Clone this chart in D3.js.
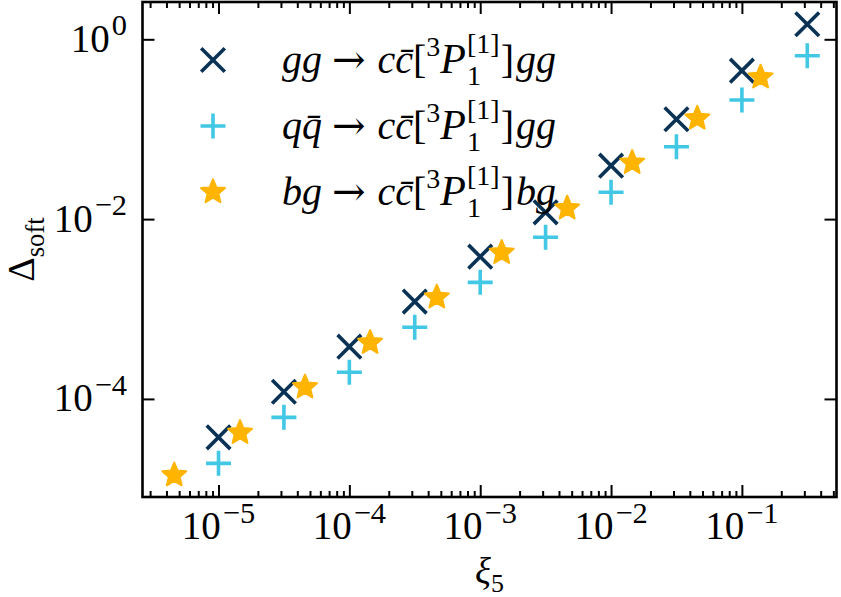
<!DOCTYPE html>
<html><head><meta charset="utf-8">
<script src="https://cdn.jsdelivr.net/npm/d3@7"></script>
<style>html,body{margin:0;padding:0;background:#fff}svg{display:block}</style>
</head><body>
<svg id="chart" width="841" height="597"></svg>
<script>
// ---------------- data ----------------
const xiGrid = [1e-5, 3.16e-5, 1e-4, 3.16e-4, 1e-3, 3.16e-3, 1e-2, 3.16e-2, 1e-1, 3.16e-1];
const ggVals = [3.74e-5, 1.20e-4, 3.81e-4, 1.21e-3, 3.82e-3, 1.19e-2, 3.93e-2, 0.129, 0.448, 1.47];
const qqVals = [1.92e-5, 6.24e-5, 1.98e-4, 6.26e-4, 1.98e-3, 6.28e-3, 1.99e-2, 6.39e-2, 0.211, 0.657];
const bgXi   = [4.59e-6, 1.46e-5, 4.58e-5, 1.44e-4, 4.66e-4, 1.46e-3, 4.62e-3, 1.45e-2, 4.56e-2, 0.139];
const bgVals = [1.42e-5, 4.21e-5, 1.35e-4, 4.22e-4, 1.35e-3, 4.23e-3, 1.32e-2, 4.24e-2, 0.132, 0.378];
const xMajorTicks = [1e-5, 1e-4, 1e-3, 1e-2, 1e-1];
const xTickExps = ["\u22125", "\u22124", "\u22123", "\u22122", "\u22121"];
const yMajorTicks = [1, 1e-2, 1e-4];
const yTickExps = ["0", "\u22122", "\u22124"];

// ---------------- layout ----------------
const L = 142.5, R = 836.5, T = 2, B = 497;
const FONT = "'Liberation Serif', 'DejaVu Serif', serif";
const TICKFS = 39, LABFS = 40;
const C_GG = "#0a3255", C_QQ = "#42c8e5", C_BG = "#ffb400";

const svg = d3.select("#chart");
const x = d3.scaleLog().domain([Math.pow(10, -5.581), Math.pow(10, -0.277)]).range([L, R]);
const y = d3.scaleLog().domain([Math.pow(10, -5.091), Math.pow(10, 0.415)]).range([B, T]);

// minor x ticks
const xMinor = [];
for (let e = -6; e <= 0; e++) for (let m = 2; m <= 9; m++) {
  const v = m * Math.pow(10, e);
  if (v > x.domain()[0] && v < x.domain()[1]) xMinor.push(v);
}

function styleAxis(g) {
  g.select(".domain").remove();
  g.selectAll("line").attr("stroke", "#000").attr("stroke-width", 2);
  g.selectAll("text").remove();
}
svg.append("g").attr("transform", `translate(0,${B})`).call(d3.axisBottom(x).tickValues(xMajorTicks).tickSize(-12).tickFormat("")).call(styleAxis);
svg.append("g").attr("transform", `translate(0,${B})`).call(d3.axisBottom(x).tickValues(xMinor).tickSize(-6).tickFormat("")).call(styleAxis);
svg.append("g").attr("transform", `translate(0,${T})`).call(d3.axisTop(x).tickValues(xMajorTicks).tickSize(-12).tickFormat("")).call(styleAxis);
svg.append("g").attr("transform", `translate(0,${T})`).call(d3.axisTop(x).tickValues(xMinor).tickSize(-6).tickFormat("")).call(styleAxis);
svg.append("g").attr("transform", `translate(${L},0)`).call(d3.axisLeft(y).tickValues(yMajorTicks).tickSize(-12).tickFormat("")).call(styleAxis);
svg.append("g").attr("transform", `translate(${R},0)`).call(d3.axisRight(y).tickValues(yMajorTicks).tickSize(-12).tickFormat("")).call(styleAxis);

// math text helper
function mathText(parent, px, py, pieces, base, anchor, rotate) {
  const g = parent.append("g");
  const inner = g.append("g");
  let cx = 0, prevStart = 0, prevEnd = 0;
  pieces.forEach(p => {
    const fs = base * (p.s || 1);
    const sx = (p.back ? prevStart : cx) + (p.dx || 0);
    const t = inner.append("text").attr("x", sx).attr("y", -(p.sh || 0) * base)
      .attr("font-family", p.ff || FONT).attr("font-size", fs)
      .attr("font-style", p.it ? "italic" : "normal").attr("fill", "#000").text(p.t);
    const w = t.node().getComputedTextLength();
    const end = sx + w + (p.dxa || 0);
    cx = p.back ? Math.max(prevEnd, end) : end;
    prevStart = sx; prevEnd = end;
  });
  const off = anchor === "middle" ? -cx / 2 : anchor === "end" ? -cx : 0;
  inner.attr("transform", `translate(${off},0)`);
  g.attr("transform", `translate(${px},${py})` + (rotate ? ` rotate(${rotate})` : ""));
  return g;
}

// tick labels
xMajorTicks.forEach((v, i) => {
  mathText(svg, x(v), 539, [{t: "10"}, {t: xTickExps[i], s: 0.78, sh: 0.42, dx: 2}], TICKFS, "middle");
});
yMajorTicks.forEach((v, i) => {
  mathText(svg, 127, y(v) + 12.5, [{t: "10"}, {t: yTickExps[i], s: 0.78, sh: 0.42, dx: 2}], TICKFS, "end");
});

// axis labels
mathText(svg, (L + R) / 2, 584, [{t: "\u03be", it: true}, {t: "5", s: 0.7, sh: -0.22}], 37, "middle");
mathText(svg, 34, (T + B) / 2, [{t: "\u0394"}, {t: "soft", s: 0.7, sh: -0.25}], 38, "middle", -90);

// markers
const plot = svg.append("g");
function drawX(g, cx, cy, col) {
  const h = 11.8;
  g.append("path").attr("d", `M${cx - h},${cy - h}L${cx + h},${cy + h}M${cx - h},${cy + h}L${cx + h},${cy - h}`)
    .attr("stroke", col).attr("stroke-width", 3.6).attr("fill", "none");
}
function drawPlus(g, cx, cy, col) {
  const h = 12.5;
  g.append("path").attr("d", `M${cx - h},${cy}L${cx + h},${cy}M${cx},${cy - h}L${cx},${cy + h}`)
    .attr("stroke", col).attr("stroke-width", 3.6).attr("fill", "none");
}
function drawStar(g, cx, cy, col) {
  const Ro = 12.6, Ri = Ro * 0.45;
  const pts = [];
  for (let k = 0; k < 10; k++) {
    const a = -Math.PI / 2 + k * Math.PI / 5;
    const r = k % 2 === 0 ? Ro : Ri;
    pts.push([cx + r * Math.cos(a), cy + r * Math.sin(a)]);
  }
  g.append("path").attr("d", "M" + pts.map(p => p.join(",")).join("L") + "Z")
    .attr("fill", col).attr("stroke", col).attr("stroke-width", 2).attr("stroke-linejoin", "round");
}
xiGrid.forEach((v, i) => drawX(plot, x(v), y(ggVals[i]), C_GG));
xiGrid.forEach((v, i) => drawPlus(plot, x(v), y(qqVals[i]), C_QQ));
bgXi.forEach((v, i) => drawStar(plot, x(v), y(bgVals[i]), C_BG));

// legend
const leg = svg.append("g");
const legY = [60, 126, 192];
drawX(leg, 213, legY[0], C_GG);
drawPlus(leg, 213, legY[1], C_QQ);
drawStar(leg, 213, legY[2], C_BG);
function legPieces(a, b) {
  return [
    {t: a, it: true}, {t: "\u2192", ff: "'DejaVu Serif', serif", s: 1.0, dx: 10, dxa: 12}, {t: "cc\u0304", it: true}, {t: "["},
    {t: "3", s: 0.7, sh: 0.42}, {t: "P", it: true, s: 1.05},
    {t: "[1]", s: 0.7, sh: 0.5, dx: 1}, {t: "1", s: 0.7, sh: -0.3, back: true},
    {t: "]", dx: 1}, {t: b, it: true, dx: 2}
  ];
}
mathText(leg, 282, legY[0] + 13, legPieces("gg", "gg"), LABFS, "start");
mathText(leg, 282, legY[1] + 13, legPieces("q\u0071\u0304", "gg"), LABFS, "start");
mathText(leg, 282, legY[2] + 13, legPieces("bg", "bg"), LABFS, "start");

// frame
svg.append("rect").attr("x", L).attr("y", T).attr("width", R - L).attr("height", B - T)
  .attr("fill", "none").attr("stroke", "#000").attr("stroke-width", 2.6);
</script>
</body></html>
